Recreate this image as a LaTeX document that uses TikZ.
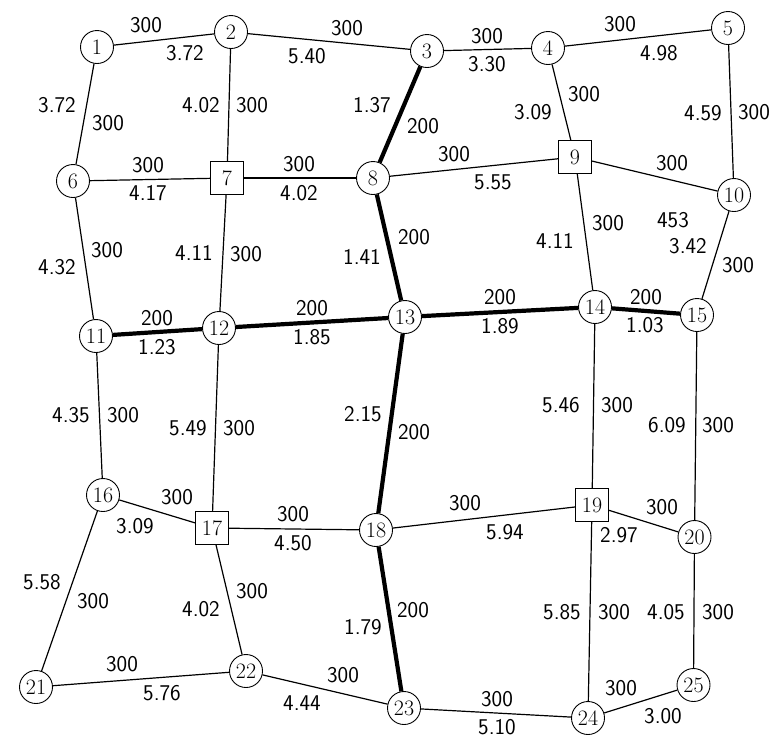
\documentclass[tikz,border=0pt]{standalone}
\usepackage{tikz}
\begin{document}
\begin{tikzpicture}[x=1pt,y=-1pt,
  cnode/.style={circle,draw,line width=0.9pt,minimum size=33pt,inner sep=0pt,font=\fontsize{22}{22}\selectfont,fill=white},
  snode/.style={rectangle,draw,line width=0.9pt,minimum size=33pt,inner sep=0pt,font=\fontsize{22}{22}\selectfont,fill=white},
  lab/.style={inner sep=0pt,font=\fontsize{22.5}{24}\sffamily},
  thinedge/.style={line width=1.2pt},
  thickedge/.style={line width=4.2pt}]
\useasboundingbox (0,0) rectangle (776,740);
\node[cnode] (n1) at (97,47) {1};
\node[cnode] (n2) at (231,32) {2};
\node[cnode] (n3) at (427,51) {3};
\node[cnode] (n4) at (548,48) {4};
\node[cnode] (n5) at (728,28) {5};
\node[cnode] (n6) at (73,181) {6};
\node[snode] (n7) at (227,178) {7};
\node[cnode] (n8) at (373,178) {8};
\node[snode] (n9) at (575,157) {9};
\node[cnode] (n10) at (734,195) {10};
\node[cnode] (n11) at (96,336) {11};
\node[cnode] (n12) at (219,328) {12};
\node[cnode] (n13) at (405,317) {13};
\node[cnode] (n14) at (595,307) {14};
\node[cnode] (n15) at (697,315) {15};
\node[cnode] (n16) at (103,495) {16};
\node[snode] (n17) at (212,528) {17};
\node[cnode] (n18) at (376,530) {18};
\node[snode] (n19) at (592,505) {19};
\node[cnode] (n20) at (694.5,537) {20};
\node[cnode] (n21) at (36,687) {21};
\node[cnode] (n22) at (246,671) {22};
\node[cnode] (n23) at (404,708) {23};
\node[cnode] (n24) at (588,718) {24};
\node[cnode] (n25) at (693.5,685) {25};
% connectors
\draw[thinedge] (n1) -- (n2);
\draw[thinedge] (n2) -- (n3);
\draw[thinedge] (n3) -- (n4);
\draw[thinedge] (n4) -- (n5);
\draw[thinedge] (n1) -- (n6);
\draw[thinedge] (n2) -- (n7);
\draw[thickedge] (n3) -- (n8);
\draw[thinedge] (n4) -- (n9);
\draw[thinedge] (n5) -- (n10);
\draw[thinedge] (n6) -- (n7);
\draw[thinedge] (n7) -- (n8);
\draw[thinedge] (n8) -- (n9);
\draw[thinedge] (n9) -- (n10);
\draw[thinedge] (n6) -- (n11);
\draw[thinedge] (n7) -- (n12);
\draw[thickedge] (n8) -- (n13);
\draw[thinedge] (n9) -- (n14);
\draw[thinedge] (n10) -- (n15);
\draw[thickedge] (n11) -- (n12);
\draw[thickedge] (n12) -- (n13);
\draw[thickedge] (n13) -- (n14);
\draw[thickedge] (n14) -- (n15);
\draw[thinedge] (n11) -- (n16);
\draw[thinedge] (n12) -- (n17);
\draw[thickedge] (n13) -- (n18);
\draw[thinedge] (n14) -- (n19);
\draw[thinedge] (n15) -- (n20);
\draw[thinedge] (n16) -- (n17);
\draw[thinedge] (n17) -- (n18);
\draw[thinedge] (n18) -- (n19);
\draw[thinedge] (n19) -- (n20);
\draw[thinedge] (n16) -- (n21);
\draw[thinedge] (n17) -- (n22);
\draw[thickedge] (n18) -- (n23);
\draw[thinedge] (n19) -- (n24);
\draw[thinedge] (n20) -- (n25);
\draw[thinedge] (n21) -- (n22);
\draw[thinedge] (n22) -- (n23);
\draw[thinedge] (n23) -- (n24);
\draw[thinedge] (n24) -- (n25);
% labels
\node[lab] (l1a) at (146,25) {300};
\node[lab] (l1b) at (185,53) {3.72};
\node[lab] (l2a) at (347,28) {300};
\node[lab] (l2b) at (307,56) {5.40};
\node[lab] (l3a) at (487,36) {300};
\node[lab] (l3b) at (487,64) {3.30};
\node[lab] (l4a) at (620,24) {300};
\node[lab] (l4b) at (659,53) {4.98};
\node[lab] (l5a) at (57,105) {3.72};
\node[lab] (l5b) at (108,123) {300};
\node[lab] (l6a) at (201,105) {4.02};
\node[lab] (l6b) at (252,105) {300};
\node[lab] (l7a) at (372,105) {1.37};
\node[lab] (l7b) at (423,126) {200};
\node[lab] (l8a) at (584,94) {300};
\node[lab] (l8b) at (533,112) {3.09};
\node[lab] (l9a) at (703,113) {4.59};
\node[lab] (l9b) at (754,112) {300};
\node[lab] (l10a) at (148,165) {300};
\node[lab] (l10b) at (148,193) {4.17};
\node[lab] (l11a) at (299,164) {300};
\node[lab] (l11b) at (299,193) {4.02};
\node[lab] (l12a) at (454,154) {300};
\node[lab] (l12b) at (493,182) {5.55};
\node[lab] (l13a) at (672,163) {300};
\node[lab] (l14a) at (673,220) {453};
\node[lab] (l14b) at (688,246) {3.42};
\node[lab] (l14c) at (738,265) {300};
\node[lab] (l15a) at (107,250) {300};
\node[lab] (l15b) at (57,267) {4.32};
\node[lab] (l16a) at (194,253) {4.11};
\node[lab] (l16b) at (246,254) {300};
\node[lab] (l17a) at (414,237) {200};
\node[lab] (l17b) at (362,257) {1.41};
\node[lab] (l18a) at (608,223) {300};
\node[lab] (l18b) at (555,241) {4.11};
\node[lab] (l19a) at (157,318) {200};
\node[lab] (l19b) at (157,347) {1.23};
\node[lab] (l20a) at (312,308) {200};
\node[lab] (l20b) at (312,337) {1.85};
\node[lab] (l21a) at (500,297) {200};
\node[lab] (l21b) at (500,326) {1.89};
\node[lab] (l22a) at (646,297) {200};
\node[lab] (l22b) at (645,325) {1.03};
\node[lab] (l23a) at (71,415) {4.35};
\node[lab] (l23b) at (123,415) {300};
\node[lab] (l24a) at (188,428) {5.49};
\node[lab] (l24b) at (239,428) {300};
\node[lab] (l25a) at (363,414) {2.15};
\node[lab] (l25b) at (414,432) {200};
\node[lab] (l26a) at (561,405) {5.46};
\node[lab] (l26b) at (617,405) {300};
\node[lab] (l27a) at (667,425) {6.09};
\node[lab] (l27b) at (718,425) {300};
\node[lab] (l28a) at (177,497) {300};
\node[lab] (l28b) at (135,526) {3.09};
\node[lab] (l29a) at (293,514) {300};
\node[lab] (l29b) at (293,543) {4.50};
\node[lab] (l30a) at (465,503) {300};
\node[lab] (l30b) at (505,532) {5.94};
\node[lab] (l31a) at (662,507) {300};
\node[lab] (l31b) at (619,535) {2.97};
\node[lab] (l32a) at (42,582) {5.58};
\node[lab] (l32b) at (93,601) {300};
\node[lab] (l33a) at (252,591) {300};
\node[lab] (l33b) at (201,609) {4.02};
\node[lab] (l34a) at (413,610) {200};
\node[lab] (l34b) at (363,627) {1.79};
\node[lab] (l35a) at (562,612) {5.85};
\node[lab] (l35b) at (614,612) {300};
\node[lab] (l36a) at (666,612) {4.05};
\node[lab] (l36b) at (718,612) {300};
\node[lab] (l37a) at (122,664) {300};
\node[lab] (l37b) at (162,693) {5.76};
\node[lab] (l38a) at (343,675) {300};
\node[lab] (l38b) at (302,703) {4.44};
\node[lab] (l39a) at (497,699) {300};
\node[lab] (l39b) at (497,727) {5.10};
\node[lab] (l40a) at (621,688) {300};
\node[lab] (l40b) at (663,716) {3.00};
\end{tikzpicture}
\end{document}
